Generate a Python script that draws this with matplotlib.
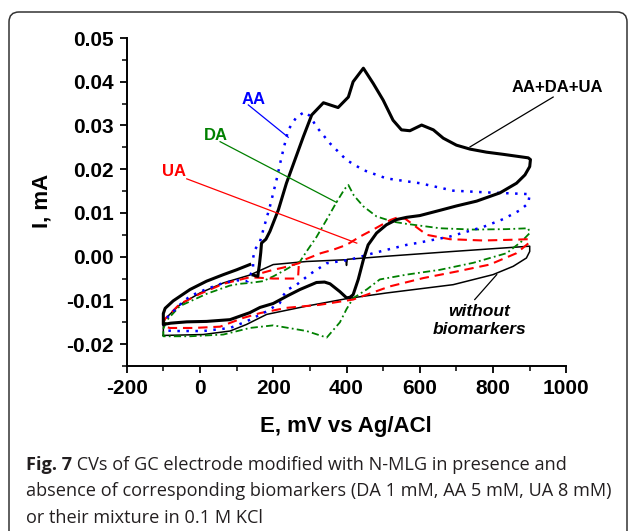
import matplotlib
matplotlib.use("Agg")
import matplotlib.pyplot as plt
from matplotlib.patches import FancyBboxPatch
from matplotlib.transforms import IdentityTransform
from matplotlib.ticker import MultipleLocator, FormatStrFormatter

# AA+DA+UA mixture (bold black)
mix_E = [136, 100, 64, 18, -27, -73, -95, -100, -100, -80, -36, 18, 82, 136, 164, 200, 240, 273,
         318, 340, 355, 382, 400, 409, 418, 432, 446, 459, 482, 509, 537, 564, 600, 655, 700, 755,
         819, 864, 887, 900, 902, 896, 828, 782, 737, 700, 664, 637, 605, 573, 550, 527, 500, 473,
         446, 418, 405, 377, 337, 305, 282, 259, 236, 214, 191, 180, 168, 166, 162, 159, 158, 145]
mix_I = [-0.0018, -0.0030, -0.0041, -0.0056, -0.0075, -0.0101, -0.0118, -0.0130, -0.0155, -0.0152,
         -0.0149, -0.0148, -0.0144, -0.0128, -0.0116, -0.0107, -0.0089, -0.0075, -0.0059, -0.0058,
         -0.0062, -0.0080, -0.0094, -0.0093, -0.0087, -0.0052, -0.0007, 0.0027, 0.0054, 0.0073,
         0.0085, 0.0090, 0.0094, 0.0106, 0.0116, 0.0127, 0.0146, 0.0168, 0.0187, 0.0206, 0.0222,
         0.0226, 0.0234, 0.0239, 0.0246, 0.0255, 0.0271, 0.0290, 0.0301, 0.0288, 0.0290, 0.0312,
         0.0358, 0.0396, 0.0431, 0.0400, 0.0365, 0.0341, 0.0352, 0.0324, 0.0274, 0.0221, 0.0168,
         0.0107, 0.0058, 0.0040, 0.0031, 0.0010, -0.0020, -0.0037, -0.0045, -0.0042]

# AA (blue dotted)
aa_E = [-100, -95, -55, -27, 18, 64, 100, 131, 145, 145, 150, 164, 173, 191, 209, 223, 241, 264,
        286, 300, 318, 355, 400, 446, 509, 600, 691, 782, 900, 896, 873, 828, 773, 682, 591, 564,
        473, 409, 346, 300, 291, 264, 240, 227, 218, 182, 127, 82, 9, -73, -100]
aa_I = [-0.0158, -0.0144, -0.0110, -0.0090, -0.0074, -0.0060, -0.0054, -0.0056, -0.0026, -0.0003,
        0.0016, 0.0035, 0.0062, 0.0115, 0.0176, 0.0229, 0.0290, 0.0320, 0.0331, 0.0322, 0.0297,
        0.0259, 0.0221, 0.0198, 0.0179, 0.0168, 0.0151, 0.0147, 0.0143, 0.0122, 0.0106, 0.0086,
        0.0068, 0.0046, 0.0031, 0.0027, 0.0008, -0.0007, -0.0015, -0.0040, -0.0046, -0.0064,
        -0.0075, -0.0089, -0.0106, -0.0125, -0.0148, -0.0163, -0.0170, -0.0170, -0.0168]

# DA (green dash-dot)
da_E = [-100, -90, -55, 18, 82, 109, 136, 172, 200, 227, 264, 273, 291, 318, 346, 373, 395, 405,
        420, 446, 482, 527, 564, 655, 746, 837, 896, 900, 878, 837, 746, 655, 564, 491, 455, 418,
        400, 382, 346, 291, 200, 136, 64, -27, -100, -100]
da_I = [-0.0165, -0.0145, -0.0113, -0.0085, -0.0066, -0.0062, -0.0060, -0.0056, -0.0045, -0.0033,
        -0.0015, -0.0011, 0.0012, 0.0045, 0.0085, 0.0125, 0.0155, 0.0164, 0.0140, 0.0115, 0.0092,
        0.0080, 0.0075, 0.0065, 0.0062, 0.0063, 0.0065, 0.0054, 0.0035, 0.0008, -0.0014, -0.0030,
        -0.0041, -0.0052, -0.0075, -0.0095, -0.0120, -0.0150, -0.0185, -0.0170, -0.0157, -0.0163,
        -0.0178, -0.0182, -0.0182, -0.0165]

# UA (red dashed)
ua_E = [170, 200, 227, 270, 291, 330, 364, 400, 437, 473, 520, 537, 560, 590, 619, 682, 773, 864,
        896, 900, 864, 791, 700, 609, 518, 455, 418, 327, 236, 164, 118, 55, -18, -82, -95, -100,
        -95, -55, 0, 64, 136, 200, 240, 262, 268, 270]
ua_I = [-0.0037, -0.0030, -0.0025, -0.0015, -0.0005, 0.0008, 0.0016, 0.0027, 0.0046, 0.0062,
        0.0084, 0.0089, 0.0087, 0.0068, 0.0050, 0.0040, 0.0037, 0.0039, 0.0040, 0.0033, 0.0008,
        -0.0018, -0.0034, -0.0049, -0.0068, -0.0087, -0.0098, -0.0110, -0.0117, -0.0129, -0.0140,
        -0.0160, -0.0163, -0.0163, -0.0160, -0.0148, -0.0142, -0.0108, -0.0085, -0.0062, -0.0047,
        -0.0050, -0.0050, -0.0050, -0.0045, -0.0015]

# without biomarkers (thin black)
blank_E = [-100, -95, 9, 82, 127, 182, 291, 400, 509, 691, 800, 855, 891, 900, 900, 691, 509, 402,
           400, 398, 291, 200, 168, 136, 64, 0, -55, -95, -100, -100]
blank_I = [-0.0180, -0.0180, -0.0178, -0.0170, -0.0155, -0.0132, -0.0113, -0.0096, -0.0083,
           -0.0064, -0.0041, -0.0022, -0.0003, 0.0012, 0.0024, 0.0012, 0.0001, -0.0006, -0.0020,
           -0.0007, -0.0011, -0.0018, -0.0030, -0.0042, -0.0060, -0.0083, -0.0110, -0.0142,
           -0.0155, -0.0180]

x_ticks = [-200, 0, 200, 400, 600, 800, 1000]
caption = ["CVs of GC electrode modified with N-MLG in presence and",
           "absence of corresponding biomarkers (DA 1 mM, AA 5 mM, UA 8 mM)",
           "or their mixture in 0.1 M KCl"]

plt.rcParams['font.family'] = ['Liberation Sans', 'DejaVu Sans']
plt.rcParams['axes.unicode_minus'] = False

fig = plt.figure(figsize=(6.29, 5.31), dpi=100)
ax = fig.add_axes([0.2014, 0.3107, 0.699, 0.6177])

ax.plot(blank_E, blank_I, color='black', lw=1.1)
ax.plot(da_E, da_I, color='#008000', lw=1.3, linestyle=(0, (4, 1.8, 1, 1.8)))
ax.plot(ua_E, ua_I, color='#ff0000', lw=1.5, linestyle=(0, (4.5, 2.8)))
ax.plot(aa_E, aa_I, color='#0000ff', lw=1.8, linestyle=(0, (1, 2.6)))
ax.plot(mix_E, mix_I, color='black', lw=2.2)

ax.set_xlim(-200, 1000)
ax.set_ylim(-0.025, 0.05)
ax.set_xticks(x_ticks)
ax.xaxis.set_minor_locator(MultipleLocator(100))
ax.yaxis.set_major_locator(MultipleLocator(0.01))
ax.yaxis.set_minor_locator(MultipleLocator(0.005))
ax.yaxis.set_major_formatter(FormatStrFormatter('%.2f'))
for s in ['top', 'right']:
    ax.spines[s].set_visible(False)
for s in ['left', 'bottom']:
    ax.spines[s].set_linewidth(1.4)
ax.tick_params(which='major', length=5, width=1.3, direction='out', pad=4, labelsize=15)
ax.tick_params(which='minor', length=3.5, width=1.1, direction='out')
for lab in ax.get_xticklabels() + ax.get_yticklabels():
    lab.set_fontweight('bold')

ax.set_xlabel('E, mV vs Ag/ACl', fontsize=16, fontweight='bold', va='center')
ax.xaxis.set_label_coords(0.4988, -0.183)
ax.set_ylabel('I, mA', fontsize=16, fontweight='bold', va='center')
ax.yaxis.set_label_coords(-0.1926, 0.503)

# annotations
ax.text(145, 0.0360, 'AA', color='#0000ff', fontsize=12, fontweight='bold', ha='center', va='center')
ax.plot([132, 241], [0.0347, 0.0273], color='#0000ff', lw=0.9)
ax.text(43, 0.0278, 'DA', color='#008000', fontsize=12, fontweight='bold', ha='center', va='center')
ax.plot([55, 373], [0.0263, 0.0124], color='#008000', lw=0.9)
ax.text(-71, 0.0194, 'UA', color='#ff0000', fontsize=12, fontweight='bold', ha='center', va='center')
ax.plot([-36, 428], [0.0178, 0.0031], color='#ff0000', lw=0.9)
ax.text(976, 0.0386, 'AA+DA+UA', color='black', fontsize=12, fontweight='bold', ha='center', va='center')
ax.plot([964, 737], [0.0365, 0.0251], color='black', lw=0.9)
ax.text(762, -0.0146, 'without\nbiomarkers', color='black', fontsize=12.5, fontweight='bold',
        style='italic', ha='center', va='center', linespacing=1.25)
ax.plot([750, 810], [-0.0098, -0.0041], color='black', lw=0.9)

# frame
frame = FancyBboxPatch((9, -30), 618, 549, boxstyle='round,pad=0,rounding_size=10',
                       transform=IdentityTransform(), fill=False, edgecolor='#333333', lw=1.1)
fig.patches.append(frame)

# caption
cap_color = '#231f20'
cap_size = 13.1
t1 = fig.text(26 / 629, 1 - 470 / 531, 'Fig. 7', fontsize=cap_size, fontweight='bold',
              family='Open Sans', color=cap_color, va='baseline')
fig.canvas.draw()
bb = t1.get_window_extent(fig.canvas.get_renderer())
fig.text(bb.x1 / 629, 1 - 470 / 531, ' ' + caption[0], fontsize=cap_size, family='Open Sans',
         color=cap_color, va='baseline')
fig.text(26 / 629, 1 - 496.5 / 531, caption[1], fontsize=cap_size, family='Open Sans',
         color=cap_color, va='baseline')
fig.text(26 / 629, 1 - 523 / 531, caption[2], fontsize=cap_size, family='Open Sans',
         color=cap_color, va='baseline')

fig.savefig('out.png', dpi=100)
